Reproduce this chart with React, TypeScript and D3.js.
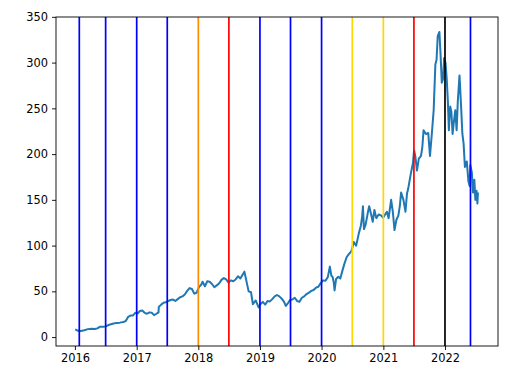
import { useEffect, useRef } from "react";
import * as d3 from "d3";

// price series
const dates = [
  "2016-01-08", "2016-01-20", "2016-02-05", "2016-02-26", "2016-03-18", "2016-04-08",
  "2016-04-29", "2016-05-13", "2016-05-27", "2016-06-17", "2016-07-01", "2016-07-22",
  "2016-08-12", "2016-09-02", "2016-09-23", "2016-10-14", "2016-10-28", "2016-11-11",
  "2016-11-25", "2016-12-09", "2016-12-23", "2017-01-06", "2017-01-20", "2017-02-03",
  "2017-02-17", "2017-03-03", "2017-03-17", "2017-03-31", "2017-04-14", "2017-04-28",
  "2017-05-10", "2017-05-12", "2017-05-26", "2017-06-09", "2017-06-23", "2017-07-07",
  "2017-07-21", "2017-08-04", "2017-08-18", "2017-09-01", "2017-09-15", "2017-09-29",
  "2017-10-13", "2017-10-27", "2017-11-10", "2017-11-24", "2017-12-08", "2017-12-22",
  "2018-01-05", "2018-01-19", "2018-01-26", "2018-02-09", "2018-02-23", "2018-03-09",
  "2018-03-23", "2018-04-06", "2018-04-20", "2018-05-04", "2018-05-18", "2018-06-01",
  "2018-06-15", "2018-06-29", "2018-07-13", "2018-07-27", "2018-08-10", "2018-08-24",
  "2018-09-07", "2018-09-21", "2018-10-01", "2018-10-12", "2018-10-26", "2018-11-09",
  "2018-11-20", "2018-12-07", "2018-12-24", "2019-01-04", "2019-01-18", "2019-02-01",
  "2019-02-15", "2019-03-01", "2019-03-15", "2019-03-29", "2019-04-12", "2019-04-26",
  "2019-05-10", "2019-05-24", "2019-06-03", "2019-06-14", "2019-06-28", "2019-07-12",
  "2019-07-26", "2019-08-09", "2019-08-23", "2019-09-06", "2019-09-20", "2019-10-04",
  "2019-10-18", "2019-11-01", "2019-11-15", "2019-11-29", "2019-12-13", "2019-12-27",
  "2020-01-10", "2020-01-24", "2020-02-07", "2020-02-19", "2020-02-28", "2020-03-06",
  "2020-03-13", "2020-03-18", "2020-03-27", "2020-04-09", "2020-04-21", "2020-05-01",
  "2020-05-15", "2020-05-29", "2020-06-12", "2020-06-26", "2020-07-10", "2020-07-24",
  "2020-08-07", "2020-08-21", "2020-08-28", "2020-09-02", "2020-09-08", "2020-09-18",
  "2020-09-30", "2020-10-09", "2020-10-23", "2020-10-30", "2020-11-09", "2020-11-20",
  "2020-12-04", "2020-12-18", "2020-12-31", "2021-01-08", "2021-01-22", "2021-02-01",
  "2021-02-16", "2021-02-26", "2021-03-08", "2021-03-19", "2021-03-31", "2021-04-09",
  "2021-04-16", "2021-04-30", "2021-05-12", "2021-05-21", "2021-05-28", "2021-06-11",
  "2021-06-25", "2021-07-02", "2021-07-09", "2021-07-19", "2021-07-30", "2021-08-12",
  "2021-08-20", "2021-08-27", "2021-09-10", "2021-09-24", "2021-10-04", "2021-10-15",
  "2021-10-26", "2021-11-05", "2021-11-12", "2021-11-19", "2021-11-29", "2021-12-06",
  "2021-12-13", "2021-12-20", "2021-12-27", "2022-01-04", "2022-01-11", "2022-01-18",
  "2022-01-24", "2022-02-01", "2022-02-08", "2022-02-15", "2022-02-22", "2022-03-03",
  "2022-03-11", "2022-03-18", "2022-03-28", "2022-04-07", "2022-04-14", "2022-04-21",
  "2022-04-29", "2022-05-10", "2022-05-20", "2022-05-27", "2022-05-31", "2022-06-09",
  "2022-06-16", "2022-06-24", "2022-06-30", "2022-07-07", "2022-07-12", "2022-07-15",
];

const prices = [
  8.0, 6.8, 6.6, 7.5, 8.7, 9.0,
  8.8, 9.5, 11.2, 11.4, 11.7, 13.5,
  14.5, 15.5, 15.8, 16.5, 17.5, 22.0,
  23.5, 23.5, 26.5, 25.8, 28.5, 29.0,
  26.5, 25.5, 27.0, 26.5, 24.0, 25.5,
  27.0, 33.0, 35.5, 37.5, 38.0, 39.5,
  40.5, 41.0, 39.5, 41.5, 43.5, 44.5,
  46.5, 50.5, 53.5, 52.5, 47.5, 48.5,
  54.5, 57.5, 60.5, 55.5, 61.0, 60.5,
  58.0, 54.5, 56.5, 58.5, 62.5, 64.5,
  63.0, 59.5, 62.0, 61.0, 63.0, 66.5,
  64.0, 68.5, 71.5, 62.0, 50.0, 49.0,
  36.0, 40.0, 32.5, 36.0, 38.5, 35.5,
  39.5, 39.0, 41.5, 44.5, 46.0, 44.5,
  42.0, 38.5, 34.0, 36.5, 40.5, 41.0,
  43.0, 39.5, 38.5, 43.0, 44.5, 47.0,
  48.5, 50.5, 51.5, 54.0, 55.0, 59.0,
  62.0, 61.5, 65.5, 77.0, 67.0, 66.0,
  60.0, 51.0, 63.5, 66.0, 64.0, 71.0,
  80.0, 87.5, 91.0, 94.0, 104.0, 100.0,
  112.0, 122.0, 131.0, 143.0, 118.0, 123.0,
  135.0, 143.0, 132.0, 126.0, 139.0, 130.0,
  134.0, 133.0, 130.5, 133.0, 137.0, 130.0,
  150.0, 137.0, 117.0, 128.0, 133.0, 144.0,
  158.0, 150.0, 137.0, 157.0, 162.0, 177.0,
  190.0, 204.0, 198.0, 182.0, 195.0, 198.0,
  208.0, 226.0, 222.0, 223.0, 198.0, 222.0,
  248.0, 298.0, 303.0, 329.0, 333.5, 308.0,
  278.0, 282.0, 305.0, 300.0, 283.0, 258.0,
  226.0, 252.0, 246.0, 222.0, 234.0, 248.0,
  226.0, 258.0, 286.0, 250.0, 222.0, 212.0,
  186.0, 192.0, 170.0, 165.0, 188.0, 180.0,
  158.0, 172.0, 150.0, 160.0, 146.0, 157.0,
];

// vertical marker lines
const markerDates = [
  "2016-01-27", "2016-07-01", "2017-01-01", "2017-07-01", "2018-01-01", "2018-07-01",
  "2019-01-01", "2019-07-01", "2020-01-01", "2020-07-01", "2021-01-01", "2021-07-01",
  "2022-01-01", "2022-06-01",
];
const markerColors = [
  "blue", "blue", "blue", "blue", "darkorange", "red",
  "blue", "blue", "blue", "gold", "gold", "red",
  "black", "blue",
];

const yTicks = [0, 50, 100, 150, 200, 250, 300, 350];
const xTickYears = [2016, 2017, 2018, 2019, 2020, 2021, 2022];

const width = 526;
const height = 372;
const margin = { top: 17, right: 28, bottom: 26, left: 56 };

const App = () => {
  const svgRef = useRef<SVGSVGElement>(null);

  useEffect(() => {
    const svg = d3.select(svgRef.current);
    svg.selectAll("*").remove();

    const parse = d3.timeParse("%Y-%m-%d");
    const data = dates.map((d, i) => ({ date: parse(d) as Date, value: prices[i] }));

    // matplotlib-like 5% margins
    const [t0, t1] = d3.extent(data, (d) => d.date.getTime()) as [number, number];
    const tPad = (t1 - t0) * 0.05;
    const [v0, v1] = d3.extent(data, (d) => d.value) as [number, number];
    const vPad = (v1 - v0) * 0.05;

    const x = d3
      .scaleTime()
      .domain([new Date(t0 - tPad), new Date(t1 + tPad)])
      .range([margin.left, width - margin.right]);

    const y = d3
      .scaleLinear()
      .domain([v0 - vPad, v1 + vPad])
      .range([height - margin.bottom, margin.top]);

    const font = "DejaVu Sans, sans-serif";

    const line = d3
      .line<{ date: Date; value: number }>()
      .x((d) => x(d.date))
      .y((d) => y(d.value));

    svg
      .append("path")
      .datum(data)
      .attr("fill", "none")
      .attr("stroke", "#1f77b4")
      .attr("stroke-width", 2)
      .attr("stroke-linejoin", "round")
      .attr("stroke-linecap", "square")
      .attr("d", line);

    svg
      .append("g")
      .selectAll("line")
      .data(markerDates)
      .join("line")
      .attr("x1", (d) => x(parse(d) as Date))
      .attr("x2", (d) => x(parse(d) as Date))
      .attr("y1", margin.top)
      .attr("y2", height - margin.bottom)
      .attr("stroke", (d, i) => markerColors[i])
      .attr("stroke-width", 1.7);

    // frame
    svg
      .append("rect")
      .attr("x", margin.left)
      .attr("y", margin.top)
      .attr("width", width - margin.left - margin.right)
      .attr("height", height - margin.top - margin.bottom)
      .attr("fill", "none")
      .attr("stroke", "black")
      .attr("stroke-width", 0.9);

    const xAxis = d3
      .axisBottom(x)
      .tickValues(xTickYears.map((yr) => new Date(yr, 0, 1)))
      .tickFormat((d) => d3.timeFormat("%Y")(d as Date))
      .tickSize(4)
      .tickPadding(4);

    const gx = svg
      .append("g")
      .attr("transform", `translate(0, ${height - margin.bottom})`)
      .call(xAxis);

    const yAxis = d3.axisLeft(y).tickValues(yTicks).tickSize(4).tickPadding(4);

    const gy = svg.append("g").attr("transform", `translate(${margin.left}, 0)`).call(yAxis);

    [gx, gy].forEach((g) => {
      g.select(".domain").remove();
      g.selectAll(".tick line").attr("stroke", "black").attr("stroke-width", 0.9);
      g.selectAll(".tick text")
        .attr("fill", "black")
        .style("font-family", font)
        .style("font-size", "11.4px");
    });
  }, []);

  return (
    <svg
      ref={svgRef}
      width={width}
      height={height}
      style={{ position: "absolute", left: 0, top: 0, background: "white" }}
    />
  );
};

export default App;
